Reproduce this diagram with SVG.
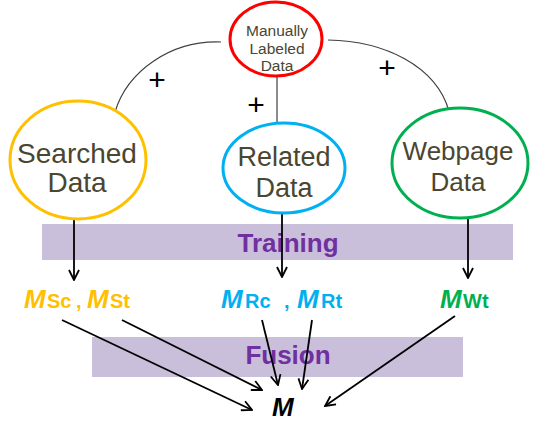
<svg xmlns="http://www.w3.org/2000/svg" width="538" height="423" viewBox="0 0 538 423">
<defs>
<marker id="arr" viewBox="0 0 12 12" refX="11" refY="6" markerWidth="12" markerHeight="12" markerUnits="userSpaceOnUse" orient="auto">
<path d="M1,1 L11,6 L1,11" fill="none" stroke="#000" stroke-width="1.8"/>
</marker>
<style>
.node{fill:#fff;stroke-width:3}
.lbl{font-family:"Liberation Sans",Arial,sans-serif;fill:#4a4630;text-anchor:middle}
.band{fill:#c9bfda}
.bandtxt{font-family:"Liberation Sans",Arial,sans-serif;font-weight:bold;font-size:26px;fill:#7030a0;text-anchor:middle}
.arc{fill:none;stroke:#404040;stroke-width:1.2}
.arrow{fill:none;stroke:#000;stroke-width:1.8;marker-end:url(#arr)}
.plus{font-family:"Liberation Sans",Arial,sans-serif;font-size:30px;fill:#000;text-anchor:middle}
.mbig{font-family:"Liberation Sans",Arial,sans-serif;font-weight:bold;font-style:italic;font-size:26px}
.msub{font-family:"Liberation Sans",Arial,sans-serif;font-weight:bold;font-size:20px}
</style>
</defs>
<rect width="538" height="423" fill="#fff"/>

<g id="bands">
<rect class="band" x="42" y="224" width="471" height="36"/>
<text class="bandtxt" x="288" y="252">Training</text>
<rect class="band" x="92" y="337" width="371" height="40"/>
<text class="bandtxt" x="288" y="364">Fusion</text>
</g>

<g id="connectors">
<path class="arc" d="M221,42 C170,40 127,72 115,112"/>
<path class="arc" d="M328,40 C385,41 436,66 449,111"/>
<line x1="277" y1="76" x2="277" y2="123" stroke="#7f7f7f" stroke-width="1.8"/>
<text class="plus" x="157" y="90">+</text>
<text class="plus" x="256" y="115">+</text>
<text class="plus" x="387" y="78">+</text>
<line class="arrow" x1="74" y1="220" x2="74" y2="280"/>
<line class="arrow" x1="282" y1="213" x2="282" y2="277"/>
<line class="arrow" x1="468" y1="218" x2="468" y2="278"/>
<line class="arrow" x1="62" y1="320" x2="252" y2="410"/>
<line class="arrow" x1="122" y1="320" x2="262" y2="390"/>
<line class="arrow" x1="262" y1="320" x2="278" y2="385"/>
<line class="arrow" x1="312" y1="320" x2="302" y2="389"/>
<line class="arrow" x1="455" y1="316" x2="325" y2="406"/>
</g>

<g id="manual">
<ellipse class="node" cx="276" cy="39" rx="46" ry="37" stroke="#ff0000"/>
<text class="lbl" font-size="15.5" x="277" y="36">Manually</text>
<text class="lbl" font-size="15.5" x="277" y="53.5">Labeled</text>
<text class="lbl" font-size="15.5" x="277" y="71">Data</text>
</g>

<g id="searched">
<ellipse class="node" cx="78" cy="160" rx="68" ry="59" stroke="#ffc000"/>
<text class="lbl" font-size="28" x="77" y="163">Searched</text>
<text class="lbl" font-size="28" x="77" y="192">Data</text>
</g>

<g id="related">
<ellipse class="node" cx="284" cy="168" rx="61" ry="45" stroke="#00b0f0"/>
<text class="lbl" font-size="27" x="284" y="166">Related</text>
<text class="lbl" font-size="27" x="284" y="197">Data</text>
</g>

<g id="webpage">
<ellipse class="node" cx="460" cy="163" rx="68" ry="55" stroke="#00b050"/>
<text class="lbl" font-size="26" x="458" y="160">Webpage</text>
<text class="lbl" font-size="26" x="458" y="191">Data</text>
</g>

<g id="m-searched" fill="#ffc000">
<text class="mbig" x="24" y="308">M</text>
<text class="msub" x="47" y="308">Sc</text>
<text class="msub" x="76" y="308">,</text>
<text class="mbig" x="87" y="308">M</text>
<text class="msub" x="110" y="308">St</text>
</g>

<g id="m-related" fill="#00b0f0">
<text class="mbig" x="221" y="308">M</text>
<text class="msub" x="245" y="308">Rc</text>
<text class="msub" x="284" y="308">,</text>
<text class="mbig" x="297" y="308">M</text>
<text class="msub" x="321" y="308">Rt</text>
</g>

<g id="m-webpage" fill="#00b050">
<text class="mbig" x="440" y="308">M</text>
<text class="msub" x="463" y="308" font-size="22">Wt</text>
</g>

<g id="m-final">
<text class="mbig" x="272" y="416" font-size="28" fill="#000">M</text>
</g>
</svg>
